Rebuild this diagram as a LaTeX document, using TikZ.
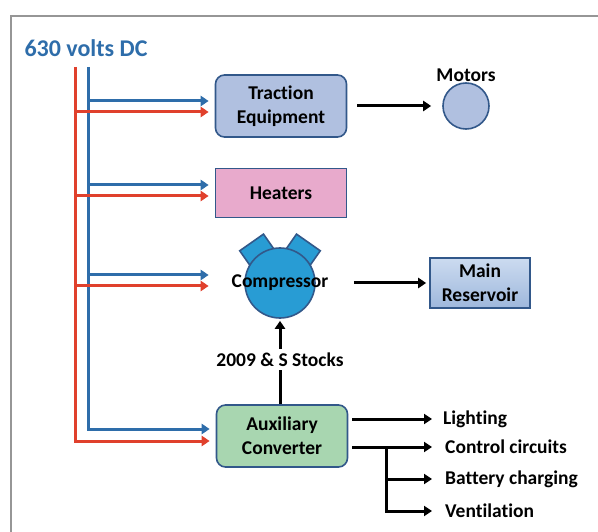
\documentclass[tikz,border=0pt]{standalone}
\usepackage{fontspec}
\setmainfont[Ligatures=NoCommon]{Carlito}
\usetikzlibrary{arrows.meta, calc, positioning}
\definecolor{figBus}{RGB}{46,109,170}
\definecolor{figRed}{RGB}{224,64,44}
\definecolor{figEdge}{RGB}{50,88,138}
\definecolor{figTrac}{RGB}{176,192,224}
\definecolor{figHeat}{RGB}{232,170,204}
\definecolor{figComp}{RGB}{40,156,212}
\definecolor{figAux}{RGB}{168,214,176}
\definecolor{figResT}{RGB}{204,219,240}
\definecolor{figResB}{RGB}{158,184,220}
\definecolor{figFrame}{RGB}{150,150,150}
\tikzset{
  box/.style={draw=figEdge, line width=1.6pt, minimum width=131pt, minimum height=62pt,
    align=center, font=\bfseries\fontsize{19.5}{24}\selectfont},
  lbl/.style={inner sep=2pt, align=center, font=\bfseries\fontsize{19.5}{24}\selectfont},
  title/.style={inner sep=2pt, text=figBus, font=\bfseries\fontsize{24}{28}\selectfont},
  bluebus/.style={figBus, line width=3pt, -{Triangle[length=8pt,width=10pt]}, shorten >=6pt},
  redbus/.style={figRed, line width=3pt, -{Triangle[length=8pt,width=10pt]}, shorten >=6pt},
  blkline/.style={black, line width=3pt},
  blkarrow/.style={blkline, -{Triangle[length=8pt,width=10pt]}}
}
\begin{document}
\begin{tikzpicture}[x=1pt, y=-1pt]
\useasboundingbox (0,0) rectangle (598,532);
% frame of the figure
\draw[figFrame, line width=1.5pt] (11,532) -- (11,16) -- (598,16);
% supply and the loads on it
\node[title] (dc) at (86,48) {630 volts DC};
\node[box, fill=figTrac, rounded corners=9pt] (trac) at (281,106) {Traction\\Equipment};
\node[box, fill=figHeat, minimum height=49pt] (heat) at (281,193) {Heaters};
\foreach \a in {125,55}
  \node[draw=figEdge, fill=figComp, line width=1.6pt, minimum width=29pt, minimum height=19pt,
        inner sep=0pt, rotate=\a-90] at ($(280,283)+(\a:40pt)$) {};
\node[circle, draw=figEdge, fill=figComp, line width=1.6pt, minimum size=70pt, inner sep=0pt] (comp) at (280,283) {};
\node[lbl] (comptxt) at (comp) {Compressor};
\node[circle, draw=figEdge, fill=figTrac, line width=1.6pt, minimum size=46pt, inner sep=0pt] (motors) at (466,106) {};
\node[lbl, above=-2pt of motors] (motlbl) {Motors};
\node[box, minimum width=100pt, minimum height=50pt, top color=figResT, bottom color=figResB] (mainres) at (480,283) {Main\\Reservoir};
\node[lbl] (stocks) at (280,360) {2009 \& S Stocks};
\node[box, fill=figAux, rounded corners=9pt] (aux) at (282,436) {Auxiliary\\Converter};
% outputs of the converter
\node[lbl, anchor=west] (light) at (441,419) {Lighting};
\node[lbl, anchor=west] (ctrl) at (443,447) {Control circuits};
\node[lbl, anchor=west] (batt) at (443,479) {Battery charging};
\node[lbl, anchor=west] (vent) at (443,511) {Ventilation};
% the two bus lines
\coordinate (redtop) at (75,67);
\coordinate (bluetop) at (88,67);
\draw[redbus] (redtop) |- ([yshift=-5pt]aux.west);
\draw[bluebus] (bluetop) |- ([yshift=7pt]aux.west);
\foreach \n/\yb/\yr in {trac/-5/6, heat/-8/3, comp/-8/3}
  {\draw[redbus] ($(redtop |- \n)+(0,\yr)$) -- ($(trac.west |- \n)+(0,\yr)$);
   \draw[bluebus] ($(bluetop |- \n)+(0,\yb)$) -- ($(trac.west |- \n)+(0,\yb)$);}
% black connectors
\draw[blkarrow, shorten <=10pt, shorten >=11pt] (trac.east) -- (motors.west);
\draw[blkarrow, shorten <=38pt, shorten >=3pt] (comp.east) -- (mainres.west);
\draw[blkline, shorten >=1pt] (aux.north -| stocks) -- (stocks.south);
\draw[blkarrow, shorten <=2pt, shorten >=2pt] (stocks.north) -- (comp.south);
\draw[blkarrow, shorten <=4pt, shorten >=9pt] (aux.east |- light) -- (light.west);
\draw[blkarrow, shorten <=4pt, shorten >=11pt] (aux.east |- ctrl) -- (ctrl.west);
\coordinate (split) at ($(aux.east |- ctrl)+(38,0)$);
\draw[blkarrow, shorten >=11pt] (split) |- (vent.west);
\draw[blkarrow, shorten >=11pt] (split |- batt) -- (batt.west);
\end{tikzpicture}
\end{document}
